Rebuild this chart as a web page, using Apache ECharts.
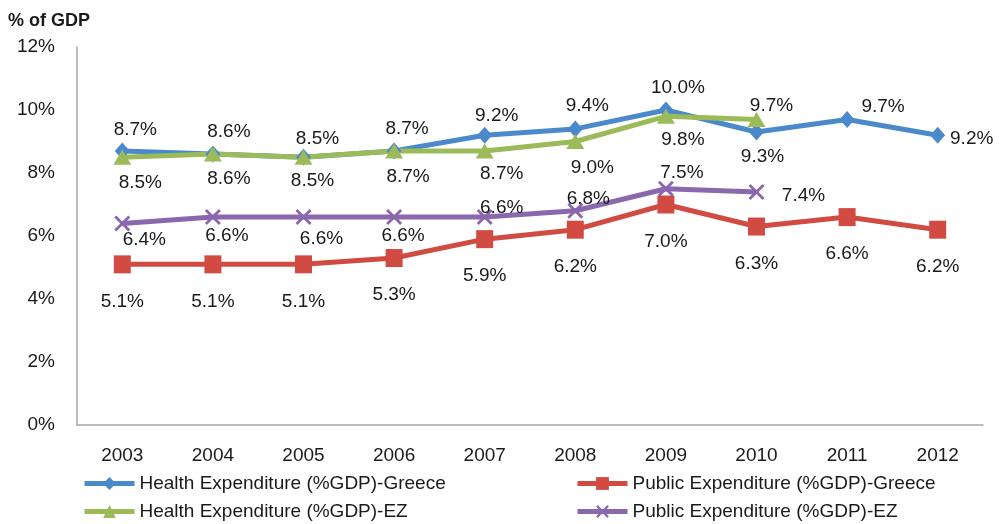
<!DOCTYPE html>
<html>
<head>
<meta charset="utf-8">
<script src="https://cdn.jsdelivr.net/npm/echarts@6/dist/echarts.min.js"></script>
<style>
  html, body { margin: 0; padding: 0; background: #fff; }
  #chart { width: 1004px; height: 524px; }
</style>
</head>
<body>
<div id="chart"></div>
<script>
// categories and values
const years = ["2003", "2004", "2005", "2006", "2007", "2008", "2009", "2010", "2011", "2012"];
const healthGreece = [8.7, 8.6, 8.5, 8.7, 9.2, 9.4, 10.0, 9.3, 9.7, 9.2];
const publicGreece = [5.1, 5.1, 5.1, 5.3, 5.9, 6.2, 7.0, 6.3, 6.6, 6.2];
const healthEZ = [8.5, 8.6, 8.5, 8.7, 8.7, 9.0, 9.8, 9.7, null, null];
const publicEZ = [6.4, 6.6, 6.6, 6.6, 6.6, 6.8, 7.5, 7.4, null, null];
const yTicks = { min: 0, max: 12, interval: 2 };

// label offsets (px) from each point, the way the source placed them
const healthGreeceOffsets = [[13, -21], [16, -22], [14, -18], [13, -22], [12, -19], [12, -23], [12, -22], [6, 25], [36, -13], [34, 4]];
const healthEZOffsets = [[18, 26], [16, 25], [9, 24], [14, 26], [17, 23], [17, 26], [17, 23], [15, -14]];
const publicGreeceOffsets = years.map(() => [0, 37]);
const publicEZOffsets = [[22, 16], [14, 19], [18, 22], [9, 19], [17, -9], [13, -12], [16, -16], [47, 4]];

const FONT = "'Liberation Sans', Arial, sans-serif";
const TEXT = "#1a1a1a";

const crossPath = "path://M2,0 L8,6 L14,0 L16,2 L10,8 L16,14 L14,16 L8,10 L2,16 L0,14 L6,8 L0,2 Z";

const withLabels = (values, offsets) =>
  values.map((v, i) =>
    v == null ? "-" : { value: v, label: { offset: offsets[i] || [0, 0] } }
  );

const makeSeries = (name, values, offsets, color, symbol, symbolSize) => ({
  name,
  type: "line",
  data: withLabels(values, offsets),
  symbol,
  symbolSize,
  showAllSymbol: true,
  lineStyle: { color, width: 5 },
  itemStyle: { color, borderWidth: 0 },
  label: {
    show: true,
    position: "inside",
    align: "center",
    verticalAlign: "middle",
    fontFamily: FONT,
    fontSize: 19,
    color: TEXT,
    formatter: (p) => p.value.toFixed(1) + "%",
  },
  emphasis: { disabled: true },
});

// one legend per entry so the 2x2 layout sits exactly where the source has it
const makeLegend = (name, left, top) => ({
  data: [name],
  left,
  top,
  padding: 0,
  itemWidth: 50,
  itemHeight: 16,
  lineStyle: { width: 5 },
  textStyle: { fontFamily: FONT, fontSize: 19, color: TEXT },
});

const seriesNames = [
  "Health Expenditure (%GDP)-Greece",
  "Public Expenditure (%GDP)-Greece",
  "Health Expenditure (%GDP)-EZ",
  "Public Expenditure (%GDP)-EZ",
];

const chart = echarts.init(document.getElementById("chart"));

const option = {
  animation: false,
  title: {
    text: "% of GDP",
    left: 3,
    top: 7,
    textStyle: { fontFamily: FONT, fontSize: 18, fontWeight: "bold", color: TEXT },
  },
  grid: { left: 77, right: 21, top: 47, bottom: 99 },
  legend: [
    makeLegend(seriesNames[0], 82, 474),
    makeLegend(seriesNames[1], 575, 474),
    makeLegend(seriesNames[2], 82, 502),
    makeLegend(seriesNames[3], 575, 502),
  ],
  xAxis: {
    type: "category",
    data: years,
    boundaryGap: true,
    axisLine: { lineStyle: { color: "#a6a6a6", width: 1.5 } },
    axisTick: { show: false },
    axisLabel: { fontFamily: FONT, fontSize: 19, color: TEXT, margin: 21 },
  },
  yAxis: {
    type: "value",
    min: yTicks.min,
    max: yTicks.max,
    interval: yTicks.interval,
    splitLine: { show: false },
    axisLine: { show: true, lineStyle: { color: "#a6a6a6", width: 1.5 } },
    axisTick: { show: false },
    axisLabel: {
      fontFamily: FONT,
      fontSize: 19,
      color: TEXT,
      margin: 22,
      formatter: "{value}%",
    },
  },
  series: [
    makeSeries(seriesNames[0], healthGreece, healthGreeceOffsets, "#4a8acb", "diamond", [15, 17]),
    makeSeries(seriesNames[1], publicGreece, publicGreeceOffsets, "#d24b43", "rect", [17, 18]),
    makeSeries(seriesNames[2], healthEZ, healthEZOffsets, "#9bbb59", "triangle", [18, 15]),
    makeSeries(seriesNames[3], publicEZ, publicEZOffsets, "#8b67ae", crossPath, [16, 16]),
  ],
};

chart.setOption(option);
</script>
</body>
</html>
